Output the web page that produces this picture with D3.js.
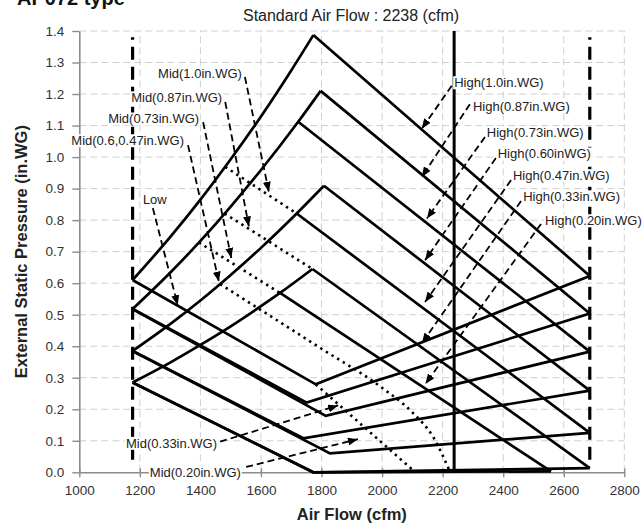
<!DOCTYPE html>
<html>
<head>
<meta charset="utf-8">
<script src="https://cdn.jsdelivr.net/npm/d3@7/dist/d3.min.js"></script>
<style>
  body { margin: 0; background: #fff; }
  svg { display: block; }
  text { font-family: "Liberation Sans", Arial, sans-serif; }
</style>
</head>
<body>
<svg id="chart" width="644" height="531"></svg>
<script>
// axis ticks
const flowTicks = [1000, 1200, 1400, 1600, 1800, 2000, 2200, 2400, 2600, 2800];
const espTicks = [0.0, 0.1, 0.2, 0.3, 0.4, 0.5, 0.6, 0.7, 0.8, 0.9, 1.0, 1.1, 1.2, 1.3, 1.4];

// air flow limits (dashed) and standard air flow
const limitFlow = [1176, 2686];
const limitEsp = [0.04, 1.38];
const standardFlow = 2238;

// rising curves [cfm, in.WG]
const riseCurve1 = [[1176, 0.610], [1300, 0.746], [1400, 0.865], [1500, 0.993], [1600, 1.129], [1700, 1.275], [1773, 1.387]];
const riseCurve2 = [[1176, 0.518], [1300, 0.633], [1400, 0.734], [1500, 0.843], [1600, 0.959], [1723, 1.112], [1797, 1.210]];
const riseCurve3 = [[1176, 0.385], [1300, 0.470], [1400, 0.545], [1500, 0.626], [1600, 0.712], [1718, 0.821], [1808, 0.909]];
const riseCurve4 = [[1176, 0.285], [1300, 0.348], [1400, 0.404], [1500, 0.463], [1600, 0.527], [1663, 0.569], [1770, 0.645]];

// one quadrilateral per ESP setting (1.0, 0.87, 0.73, 0.60, 0.47, 0.33, 0.20)
const highStart = [[1773, 1.387], [1797, 1.210], [1723, 1.112], [1808, 0.909], [1718, 0.821], [1770, 0.645], [1663, 0.569]];
const highEnd   = [[2686, 0.623], [2686, 0.504], [2686, 0.383], [2686, 0.259], [2686, 0.125], [2686, 0.013], [2558, 0.003]];
const lowStart  = [[1176, 0.610], [1176, 0.518], [1176, 0.518], [1176, 0.385], [1176, 0.385], [1176, 0.285], [1176, 0.285]];
const lowCorner = [[1781, 0.279], [1751, 0.221], [1814, 0.179], [1740, 0.108], [1828, 0.060], [1773, 0.000], [1773, 0.000]];

// dotted mid curves
const midDot1 = [[1482, 0.969], [1718, 0.821]];
const midDot2 = [[1480, 0.821], [1770, 0.645]];
const midDot3 = [[1395, 0.729], [1663, 0.569]];
const midDot4 = [[1465, 0.597], [1800, 0.392], [2000, 0.268], [2100, 0.190], [2170, 0.110], [2225, 0.000]];
const lowDot  = [[1781, 0.279], [2110, 0.000]];

// labels with dashed leaders
const labelText = ["Mid(1.0in.WG)", "Mid(0.87in.WG)", "Mid(0.73in.WG)", "Mid(0.6,0.47in.WG)", "Low",
  "Mid(0.33in.WG)", "Mid(0.20in.WG)",
  "High(1.0in.WG)", "High(0.87in.WG)", "High(0.73in.WG)", "High(0.60inWG)", "High(0.47in.WG)",
  "High(0.33in.WG)", "High(0.20in.WG)"];
const labelAnchor = ["end", "end", "end", "end", "start", "end", "start",
  "start", "start", "start", "start", "start", "start", "start"];
const labelPos = [[1537, 1.264], [1472, 1.188], [1396, 1.121], [1346, 1.052], [1210, 0.867],
  [1455, 0.092], [1233, 0.000],
  [2238, 1.236], [2300, 1.160], [2346, 1.077], [2382, 1.010], [2432, 0.941], [2466, 0.874], [2538, 0.798]];
const leaderFrom = [[1547, 1.254], [1482, 1.175], [1409, 1.111], [1359, 1.038], [1243, 0.838],
  [1465, 0.097], [1551, 0.017],
  [2230, 1.226], [2290, 1.168], [2340, 1.064], [2376, 0.997], [2426, 0.927], [2459, 0.861], [2525, 0.788]];
const leaderTo = [[1626, 0.890], [1560, 0.780], [1502, 0.680], [1461, 0.605], [1325, 0.530],
  [1855, 0.212], [1920, 0.105],
  [2131, 1.090], [2131, 0.937], [2148, 0.805], [2142, 0.673], [2142, 0.540], [2132, 0.410], [2143, 0.280]];

const svg = d3.select("#chart");
const margin = { top: 31, right: 19.7, bottom: 58.7, left: 79.3 };
const W = 644, H = 531;

const x = d3.scaleLinear().domain([1000, 2800]).range([margin.left, W - margin.right]);
const y = d3.scaleLinear().domain([0, 1.4]).range([H - margin.bottom, margin.top]);

svg.append("rect").attr("width", W).attr("height", H).attr("fill", "#fff");

// grid
const grid = svg.append("g").attr("stroke", "#cfcfcf").attr("stroke-width", 1).attr("stroke-dasharray", "7,4");
flowTicks.slice(1).forEach(t => {
  grid.append("line").attr("x1", x(t)).attr("x2", x(t)).attr("y1", y(0)).attr("y2", y(1.4));
});
espTicks.slice(1).forEach(t => {
  grid.append("line").attr("x1", x(1000)).attr("x2", x(2800)).attr("y1", y(t)).attr("y2", y(t));
});

// axes
const xAxis = d3.axisBottom(x).tickValues(flowTicks).tickFormat(d3.format("d"))
  .tickSizeInner(5).tickSizeOuter(0).tickPadding(8);
const yAxis = d3.axisLeft(y).tickValues(espTicks).tickFormat(d3.format(".1f"))
  .tickSizeInner(7).tickSizeOuter(0).tickPadding(8);

const gx = svg.append("g").attr("transform", `translate(0,${y(0)})`).call(xAxis);
const gy = svg.append("g").attr("transform", `translate(${x(1000)},0)`).call(yAxis);
[gx, gy].forEach(g => {
  g.select(".domain").attr("stroke", "#8c8c8c").attr("stroke-width", 1.6);
  g.selectAll(".tick line").attr("stroke", "#8c8c8c").attr("stroke-width", 1.4);
  g.selectAll(".tick text").attr("fill", "#333").style("font-size", "13.5px")
    .style("font-family", "'Liberation Sans', Arial, sans-serif");
});
gx.selectAll(".tick line").attr("y1", -4);

// axis titles
svg.append("text").attr("x", (x(1000) + x(2800)) / 2).attr("y", 520)
  .attr("text-anchor", "middle").style("font-size", "16.5px").style("font-weight", "bold")
  .attr("fill", "#222").text("Air Flow (cfm)");
svg.append("text").attr("transform", `translate(27,${(y(0) + y(1.4)) / 2}) rotate(-90)`)
  .attr("text-anchor", "middle").style("font-size", "16.5px").style("font-weight", "bold")
  .attr("fill", "#222").text("External Static Pressure (in.WG)");

// titles (the top one is clipped by the edge, as in the source)
svg.append("text").attr("x", 17).attr("y", 5).style("font-size", "20px").style("font-weight", "bold")
  .attr("fill", "#111").text("AP072 type");
svg.append("text").attr("x", 351).attr("y", 21).attr("text-anchor", "middle")
  .style("font-size", "16px").attr("fill", "#222").text("Standard Air Flow : 2238 (cfm)");

const plot = svg.append("g").attr("fill", "none").attr("stroke", "#000");
const straight = d3.line().x(d => x(d[0])).y(d => y(d[1]));
const smooth = d3.line().x(d => x(d[0])).y(d => y(d[1])).curve(d3.curveMonotoneX);

// limit lines
limitFlow.forEach(f => {
  plot.append("line").attr("x1", x(f)).attr("x2", x(f)).attr("y1", y(limitEsp[0])).attr("y2", y(limitEsp[1]))
    .attr("stroke-width", 3.2).attr("stroke-dasharray", "13,7");
});
plot.append("line").attr("x1", x(standardFlow)).attr("x2", x(standardFlow)).attr("y1", y(0)).attr("y2", y(1.4))
  .attr("stroke-width", 3);

// rising curves
[riseCurve1, riseCurve2, riseCurve3, riseCurve4].forEach(c => {
  plot.append("path").attr("d", smooth(c)).attr("stroke-width", 2.7).attr("stroke-linejoin", "miter");
});

// setting quadrilaterals
highStart.forEach((s, i) => {
  plot.append("path").attr("d", straight([s, highEnd[i]])).attr("stroke-width", 2.7);
  plot.append("path").attr("d", straight([lowStart[i], lowCorner[i], highEnd[i]]))
    .attr("stroke-width", 2.7).attr("stroke-linejoin", "miter");
});

// dotted curves
[midDot1, midDot2, midDot3, midDot4, lowDot].forEach(c => {
  plot.append("path").attr("d", smooth(c)).attr("stroke-width", 2.6).attr("stroke-dasharray", "2.4,4.2");
});

// arrow marker
svg.append("defs").append("marker").attr("id", "arr").attr("viewBox", "0 0 10 8")
  .attr("refX", 10).attr("refY", 4).attr("markerWidth", 10).attr("markerHeight", 8)
  .attr("markerUnits", "userSpaceOnUse").attr("orient", "auto")
  .append("path").attr("d", "M0,0L10,4L0,8Z").attr("fill", "#000");

// leaders
leaderFrom.forEach((f, i) => {
  plot.append("path").attr("d", straight([f, leaderTo[i]])).attr("stroke-width", 1.8)
    .attr("stroke-dasharray", "7,4").attr("marker-end", "url(#arr)");
});

// labels with white boxes
const labels = svg.append("g");
labelText.forEach((t, i) => {
  const g = labels.append("g");
  const txt = g.append("text").attr("x", x(labelPos[i][0])).attr("y", y(labelPos[i][1]))
    .attr("dy", "0.35em").attr("text-anchor", labelAnchor[i])
    .style("font-size", "13px").attr("fill", "#222").text(t);
  const b = txt.node().getBBox();
  g.insert("rect", "text").attr("x", b.x - 1).attr("y", b.y + 1).attr("width", b.width + 2)
    .attr("height", b.height - 2).attr("fill", "#fff");
});
</script>
</body>
</html>
